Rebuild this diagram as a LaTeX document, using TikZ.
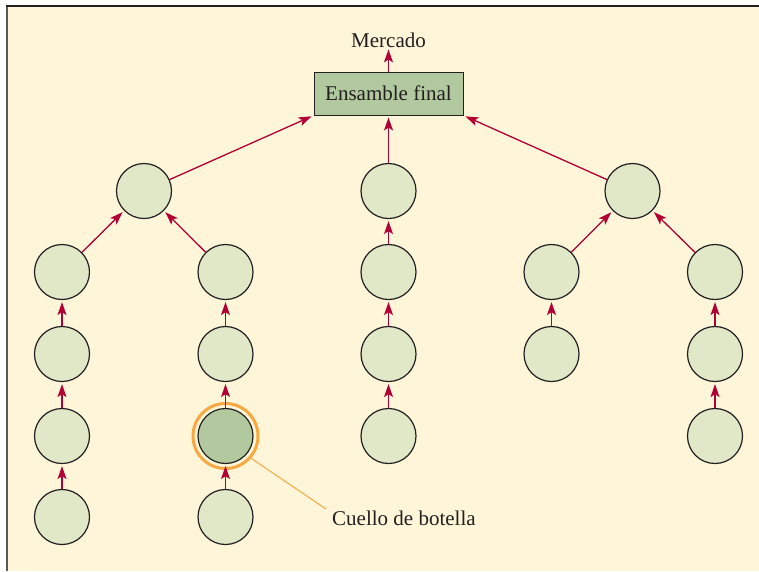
\documentclass[tikz,border=0pt]{standalone}
\usepackage{fontspec}
\setmainfont{Liberation Serif}
\usetikzlibrary{arrows.meta}
\definecolor{bgcream}{RGB}{255,245,216}
\definecolor{circfill}{RGB}{224,232,200}
\definecolor{darkfill}{RGB}{178,201,160}
\definecolor{arrowred}{RGB}{178,0,52}
\definecolor{ringorange}{RGB}{248,168,64}
\definecolor{textdark}{RGB}{35,31,32}
\definecolor{framegray}{RGB}{90,90,90}
\tikzset{
  proc/.style={circle, draw=textdark, line width=1.2pt, fill=circfill, minimum size=55pt, inner sep=0pt},
  procdark/.style={proc, fill=darkfill},
  flow/.style={draw=arrowred, line width=1.3pt, -{Stealth[length=13pt,width=9pt,inset=3pt]}, shorten >=2pt},
  lbl/.style={text=textdark, font=\fontsize{21}{25}\selectfont, inner sep=0pt},
}
\begin{document}
\begin{tikzpicture}[x=1pt,y=-1pt]
\useasboundingbox (0,0) rectangle (759,571);
\fill[bgcream] (7,6) rectangle (759,571);
\draw[framegray, line width=2pt] (7,6) -- (7,571);
\draw[textdark, line width=1.5pt] (6,6) -- (759,6);

% final assembly and market
\node[draw=textdark, line width=1pt, fill=darkfill, minimum width=149pt, minimum height=43pt, lbl] (box) at (388.5,93.5) {Ensamble final};
\node[lbl, anchor=base] (merc) at (388.5,47) {Mercado};

% left tree
\node[proc] (l1) at (144,191) {};
\node[proc] (l2a) at (62,272) {};
\node[proc] (l3a) at (62,354) {};
\node[proc] (l4a) at (62,436) {};
\node[proc] (l5a) at (62,517) {};
\node[proc] (l2b) at (225.5,272) {};
\node[proc] (l3b) at (225.5,354) {};
\node[draw=ringorange, line width=3pt, circle, minimum size=65pt, inner sep=0pt] (ring) at (225.5,436) {};
\node[procdark] (l4b) at (225.5,436) {};
\node[proc] (l5b) at (225.5,517) {};

% middle column
\node[proc] (m1) at (388.5,191) {};
\node[proc] (m2) at (388.5,272) {};
\node[proc] (m3) at (388.5,354) {};
\node[proc] (m4) at (388.5,436) {};

% right tree
\node[proc] (r1) at (632.5,191) {};
\node[proc] (r2a) at (551.5,272) {};
\node[proc] (r3a) at (551.5,354) {};
\node[proc] (r2b) at (715,272) {};
\node[proc] (r3b) at (715,354) {};
\node[proc] (r4b) at (715,436) {};

% bottleneck label
\node[lbl, anchor=base west] (cb) at (332,525.5) {Cuello de botella};
\coordinate (cblead) at (326,509);
\draw[ringorange, line width=1pt] (ring.-41) -- (cblead);

% flows
\draw[flow] (l5a) -- (l4a);
\draw[flow] (l4a) -- (l3a);
\draw[flow] (l3a) -- (l2a);
\draw[flow] (l2a) -- (l1);
\draw[flow] (l5b) -- (l4b);
\draw[flow] (l4b) -- (l3b);
\draw[flow] (l3b) -- (l2b);
\draw[flow] (l2b) -- (l1);
\draw[flow] (l1) -- (box.south west);
\draw[flow] (m4) -- (m3);
\draw[flow] (m3) -- (m2);
\draw[flow] (m2) -- (m1);
\draw[flow] (m1) -- (box.south);
\draw[flow] (r3a) -- (r2a);
\draw[flow] (r2a) -- (r1);
\draw[flow] (r4b) -- (r3b);
\draw[flow] (r3b) -- (r2b);
\draw[flow] (r2b) -- (r1);
\draw[flow] (r1) -- (box.south east);
\draw[flow] (box.north) -- (merc.south);
\end{tikzpicture}
\end{document}
